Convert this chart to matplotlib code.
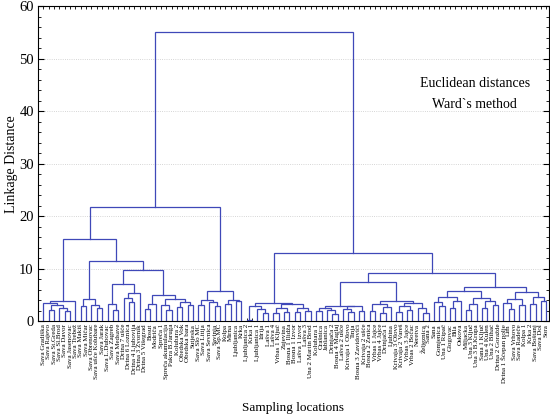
import matplotlib
matplotlib.use("Agg")
import matplotlib.pyplot as plt

# Sampling locations, in dendrogram order (left to right).
locations = [
    "Sava Gradiška", "Sava Rajevo", "Sava St.Greda", "Sava Sl.Brod", "Sava Davor",
    "Sava Jasenovac", "Sava Trebež", "Sava Makiš", "Sava Mičar", "Sava Obrenovac",
    "Sava ušće Kolubare", "Sava Jarak", "Sava L.Dubovac", "Sava Zagreb", "Sava Medsave",
    "Drina 7 ušće", "Drina 6 Loznica", "Drina 4 Ljubovija", "Drina 3 Zvornik",
    "Drina 5 Višegrad", "Bosut", "Modriča", "Spreča 1", "Spreča akumulacija",
    "Pakra B.Jaruga", "Kolubara 2", "Obedska Vok", "Obedska bara", "Sutjeska",
    "Sava Slo MC", "Sava Litija", "Sava Sevnica", "Savinja", "Sava Sp.MC", "Kolpa",
    "Mirna", "Ljubljanica", "Krka",
    "Ljubljanica 2", "Krka 1", "Ljubljanica 1", "Idrija", "Lašva 1", "Lašva 4",
    "Vrbas 1 Ključ", "Zujevina", "Bosna 1 Ilidža", "Bosna 1 Izvor", "Lašva 1 izvor",
    "Lašva 3", "Una 2 Martin Brod", "Kolubara 1", "Orašnica", "Jablanica",
    "Drinjača 2", "Bosna 4 Maglaj", "Lašva 2 ušće", "Krivaja 1 Olovo", "Tinja",
    "Bosna 3 Zavidovići", "Krivaja 2 ušće", "Bosna 2 Zenica", "Vrbas 1 Jajce",
    "Vrbas 4 Jajce", "Drinjača 1", "Ljubina", "Krivaja 3 Olovo", "Krivaja 2 Vareš",
    "Vrbas 3 Jajce", "Vrbas 2 Bočac", "Neretva", "Željeznica", "Sana 2", "Sana",
    "Gomjenica", "Una 1 Ripač", "Glogovac", "Bila", "Oskova", "Miljacka",
    "Una 3 Ključ", "Una 3 B.Krupa", "Sana 1 Ključ", "Una 4 Kulen", "Una 2 Bihać",
    "Drina 2 Goražde", "Drina 1 Šćepan polje", "Lim", "Sava Vrhovo", "Sava Radeče",
    "Kolpa 1", "Krka 2", "Sava Boštanj", "Sava Dol", "Sora",
]

# Clusters as (linkage distance, left, right); integers are leaf indices.
group_a = (3.75, (3.4, 0, (3.0, (2.2, 1, 2), (2.5, 3, (2.0, 4, 5)))), 6)
group_b = (4.3, (2.8, 7, 8), (3.0, 9, (2.5, 10, 11)))
group_c = (7.0, (3.3, 12, (2.1, 13, 14)), (5.4, (4.5, 15, (3.6, 16, 17)), 18))
group_d = (4.95, (3.2, (2.4, 19, 20), 21),
           (4.2, (3.1, 22, (2.2, 23, 24)), (3.6, (2.7, 25, 26), (3.0, 27, 28))))
group_e = (5.7, (4.0, (3.0, 29, 30), (3.6, 31, (2.8, 32, 33))),
           (4.1, (3.3, 34, 35), (3.9, 36, 37)))

group_r1 = (3.5, (2.9, (0.3, 38, 39), (2.4, 40, (1.6, 41, 42))),
            (3.2, (2.6, (1.5, 43, 44), (1.8, 45, 46)), (2.5, (1.7, 47, 48), (1.9, 49, 50))))
group_r2 = (2.9, (2.6, (1.9, 51, 52), (2.2, 53, (1.4, 54, 55))),
            (2.8, (2.3, 56, (1.7, 57, 58)), (2.0, 59, 60)))
group_r3 = (3.9, (3.3, (2.0, 61, 62), (2.7, (1.6, 63, 64), 65)),
            (3.5, (2.9, (1.8, 66, 67), (2.2, 68, 69)), (2.6, 70, (1.5, 71, 72))))
group_r4 = (5.8, (4.6, (3.6, 73, (2.9, 74, 75)), (3.9, (2.5, 76, 77), 78)),
            (4.4, (3.2, (2.1, 79, 80), 81), (3.8, (2.6, 82, 83), (3.0, 84, 85))))
group_r5 = (5.6, (4.2, (3.5, 86, (2.3, 87, 88)), (3.0, 89, 90)),
            (4.6, (3.3, 91, 92), (3.9, 93, 94)))

left_cluster = (21.7, (15.6, group_a, (11.4, group_b, (9.8, group_c, group_d))), group_e)
right_cluster = (12.9, group_r1, (9.1, (7.4, group_r2, group_r3), (6.5, group_r4, group_r5)))
tree = (55.0, left_cluster, right_cluster)

LINE_COLOR = "#3f48b8"

plt.rcParams["font.family"] = ["Liberation Serif", "DejaVu Serif"]

fig = plt.figure(figsize=(5.5, 4.16), dpi=100)
ax = fig.add_axes([0.069, 0.228, 0.929, 0.757])


def draw(node):
    # returns (x position, height) of the node
    if isinstance(node, int):
        return float(node), 0.0
    h, left, right = node
    xl, hl = draw(left)
    xr, hr = draw(right)
    ax.plot([xl, xl, xr, xr], [hl, h, h, hr], color=LINE_COLOR, lw=0.9,
            solid_joinstyle="miter")
    return (xl + xr) / 2.0, h


draw(tree)

n = len(locations)
ax.set_xlim(-1.0, n - 0.5)
ax.set_ylim(0, 60)
ax.set_yticks(range(0, 61, 10))
ax.set_yticks(range(0, 61, 2), minor=True)
ax.set_xticks(range(n))
ax.set_xticklabels(locations, rotation=90, fontsize=5)
ax.tick_params(axis="x", direction="in", length=2.5, width=0.6, top=True, pad=2)
ax.tick_params(axis="y", which="major", direction="in", length=4, width=0.8,
               right=True, labelsize=10.5, pad=3)
ax.tick_params(axis="y", which="minor", direction="in", length=2, width=0.6, right=True)
ax.grid(axis="y", which="major", color="#c8c8c8", ls=":", lw=0.6)
ax.set_axisbelow(True)
for s in ax.spines.values():
    s.set_linewidth(0.8)

ax.set_ylabel("Linkage Distance", fontsize=10)
ax.yaxis.set_label_coords(-0.040, 0.5)
ax.set_xlabel("Sampling locations", fontsize=9.5, labelpad=14)

ax.text(0.855, 0.756, "Euclidean distances", transform=ax.transAxes,
        ha="center", va="center", fontsize=10)
ax.text(0.855, 0.689, "Ward`s method", transform=ax.transAxes,
        ha="center", va="center", fontsize=10)

fig.savefig("out.png", dpi=100)
